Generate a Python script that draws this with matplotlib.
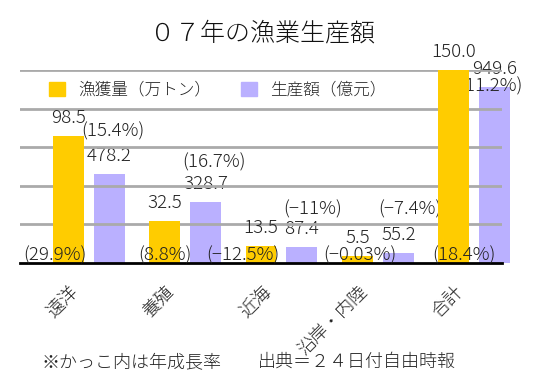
import numpy as np
import matplotlib.pyplot as plt
from matplotlib.patches import Patch

plt.rcParams['font.family'] = ['Noto Sans CJK JP', 'DejaVu Sans']
plt.rcParams['font.weight'] = 'light'

categories = ['遠洋', '養殖', '近海', '沿岸・内陸', '合計']
catch_vals = [98.5, 32.5, 13.5, 5.5, 150.0]          # 漁獲量（万トン）
value_vals = [478.2, 328.7, 87.4, 55.2, 949.6]       # 生産額（億元）
catch_growth = ['(29.9%)', '(8.8%)', '(−12.5%)', '(−0.03%)', '(18.4%)']
value_growth = ['(15.4%)', '(16.7%)', '(−11%)', '(−7.4%)', '(11.2%)']

yellow = '#FFCC00'
purple = '#BAB0FF'

fig = plt.figure(figsize=(5.39, 3.80), dpi=100)
ax = fig.add_axes([20 / 539, 1 - 263 / 380, 482 / 539, 193 / 380])
ax2 = ax.twinx()

x = np.arange(len(categories))
w = 0.321
shift = 0.425

ax.set_xlim(-0.5, 4.5)
ax.set_ylim(0, 150)
ax2.set_ylim(0, 1040)

# grid lines
ax.set_yticks([30, 60, 90, 120, 150])
ax.yaxis.grid(True, color='#aaaaaa', lw=2)
ax.set_axisbelow(True)
ax.tick_params(axis='y', left=False, labelleft=False)
ax2.set_yticks([])
for a in (ax, ax2):
    for s in ('top', 'right', 'left'):
        a.spines[s].set_visible(False)
ax2.spines['bottom'].set_visible(False)
ax.spines['bottom'].set_color('black')
ax.spines['bottom'].set_linewidth(2)
ax.patch.set_visible(False)

b1 = ax.bar(x, catch_vals, width=w, color=yellow, zorder=2)
b2 = ax2.bar(x + shift, value_vals, width=w, color=purple, zorder=2, clip_on=False)
ax2.set_zorder(ax.get_zorder() - 1)
ax.set_zorder(ax2.get_zorder() + 1)

fs = 13.5
tc = '#222222'
# value labels
for i, v in enumerate(catch_vals):
    ax.annotate(f'{v:.1f}', (x[i], v), xytext=(0, 18), textcoords='offset pixels',
                ha='center', va='center', fontsize=fs, color=tc, annotation_clip=False)
for i, v in enumerate(value_vals):
    ax2.annotate(f'{v:.1f}', (x[i] + shift, v), xytext=(0, 18), textcoords='offset pixels',
                 ha='center', va='center', fontsize=fs, color=tc, annotation_clip=False)

# growth labels
cg_dx = [-13.5, 0, -18, 2, 10]
for i, t in enumerate(catch_growth):
    ax.annotate(t, (x[i], 0), xytext=(cg_dx[i], 8), textcoords='offset pixels',
                ha='center', va='center', fontsize=fs, color=tc, annotation_clip=False)
vg_dx = [3.5, 8, 11, 12, -4]
vg_dy = [43, 40, 37, 43, 0]
for i, t in enumerate(value_growth):
    ax2.annotate(t, (x[i] + shift, value_vals[i]), xytext=(vg_dx[i], vg_dy[i]),
                 textcoords='offset pixels', ha='center', va='center', fontsize=fs,
                 color=tc, annotation_clip=False)

ax.set_xticks(x + 0.14)
ax.set_xticklabels(categories, rotation=45, ha='right', fontsize=13, color=tc)
ax.tick_params(axis='x', length=0, pad=14)

ax.legend(handles=[Patch(color=yellow), Patch(color=purple)],
          labels=['漁獲量（万トン）', '生産額（億元）'],
          ncol=2, frameon=False, fontsize=12, handlelength=0.95, handleheight=0.95,
          handletextpad=0.8, columnspacing=1.8, borderpad=0, borderaxespad=0,
          loc='center left', bbox_to_anchor=(49 / 539, 1 - 90 / 380),
          bbox_transform=fig.transFigure, labelcolor=tc)

fig.text(263 / 539, 1 - 33 / 380, '０７年の漁業生産額', ha='center', va='center',
         fontsize=18, color='#111111')
fig.text(42 / 539, 1 - 362 / 380, '※かっこ内は年成長率', ha='left', va='center',
         fontsize=13, color=tc)
fig.text(258 / 539, 1 - 362 / 380, '出典＝２４日付自由時報', ha='left', va='center',
         fontsize=13, color=tc)

fig.savefig('out.png', dpi=100)
